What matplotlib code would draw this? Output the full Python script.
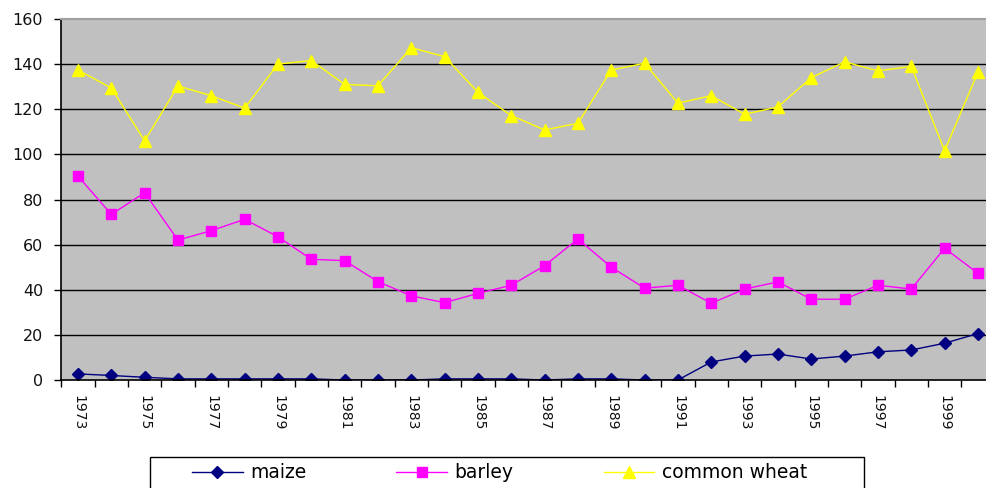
import numpy as np
import matplotlib.pyplot as plt
from matplotlib.patches import Rectangle

years = list(range(1973, 2001))
maize = [2.7, 2.0, 1.2, 0.5, 0.5, 0.5, 0.5, 0.5, 0.0, 0.0, 0.0, 0.5, 0.5, 0.5,
         0.0, 0.5, 0.5, 0.0, 0.0, 8.0, 10.6, 11.5, 9.3, 10.6, 12.5, 13.3, 16.3, 20.6]
barley = [90.4, 73.4, 83.0, 62.0, 66.2, 71.2, 63.5, 53.5, 52.9, 43.6, 37.3, 34.3, 38.4, 42.0,
          50.7, 62.5, 50.0, 40.7, 42.0, 34.0, 40.3, 43.5, 35.8, 35.8, 42.0, 40.3, 58.4, 47.3]
wheat = [137.4, 129.4, 106.0, 130.3, 126.0, 120.5, 140.0, 141.6, 131.0, 130.4, 147.3, 143.3, 127.5, 117.2,
         110.8, 113.8, 137.4, 140.4, 122.7, 126.0, 117.8, 121.0, 134.0, 141.0, 137.0, 139.0, 101.6, 136.4]
yticks = [0, 20, 40, 60, 80, 100, 120, 140, 160]

plt.rcParams['font.family'] = ['DejaVu Sans']

fig = plt.figure(figsize=(9.87, 4.88), dpi=100)
W, H = 987, 488
ax = fig.add_axes([61.3 / W, 1 - 380 / H, 933.3 / W, 361 / H])
ax.set_facecolor('#C0C0C0')

x = np.arange(len(years))
ax.plot(x, maize, color='#000080', marker='D', markersize=6, lw=1, label='maize')
ax.plot(x, barley, color='#FF00FF', marker='s', markersize=6.5, lw=1, label='barley')
ax.plot(x, wheat, color='#FFFF00', marker='^', markersize=8.5, lw=1, label='common wheat')

ax.set_xlim(-0.5, len(years) - 0.5)
ax.set_ylim(0, 160)
ax.set_yticks(yticks)
ax.set_yticklabels([str(v) for v in yticks], fontsize=11.5, color='#111111')
ax.tick_params(axis='y', length=5, width=1, pad=8, direction='out')
for v in yticks[1:-1]:
    ax.axhline(v, color='black', lw=1, zorder=1)

# category boundary ticks, labels on every other category
ax.set_xticks(np.arange(-0.5, len(years), 1.0))
ax.set_xticklabels([])
ax.tick_params(axis='x', which='major', length=5, width=1, direction='out')
ax.set_xticks(x[::2], minor=True)
ax.set_xticklabels([str(y) for y in years[::2]], minor=True, rotation=270, fontsize=10,
                   color='#111111', va='top', ha='center')
ax.tick_params(axis='x', which='minor', length=0, pad=11)

for s in ['left', 'bottom']:
    ax.spines[s].set_color('black')
    ax.spines[s].set_linewidth(1.2)
ax.spines['top'].set_color('#A0A0A0')
ax.spines['top'].set_linewidth(1.5)
ax.spines['right'].set_visible(False)

# legend frame and entries
fig.patches.append(Rectangle((150 / W, 1 - 495 / H), 714 / W, 38 / H, transform=fig.transFigure,
                             facecolor='white', edgecolor='black', lw=1))
h, l = ax.get_legend_handles_labels()
fig.legend(h, l, loc='center left', bbox_to_anchor=(192 / W, 1 - 473 / H), ncol=3, frameon=False,
           borderpad=0, borderaxespad=0, fontsize=13.5, handlelength=2.7, handletextpad=0.4,
           columnspacing=4.8)

plt.savefig('out.png', dpi=100)
